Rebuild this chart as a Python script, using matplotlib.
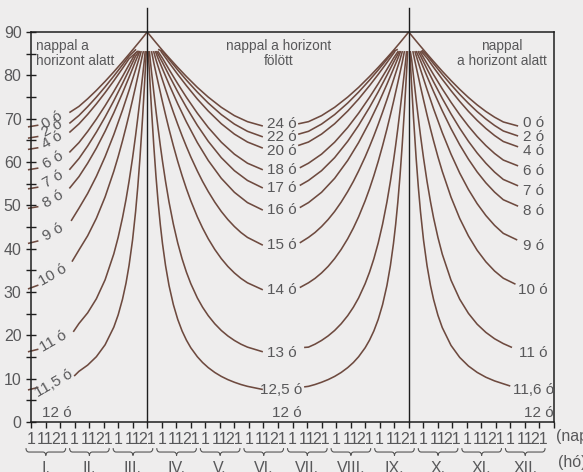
import matplotlib
matplotlib.use("Agg")
import matplotlib.pyplot as plt
import numpy as np
import matplotlib.transforms as mtransforms
from matplotlib.path import Path
from matplotlib.patches import PathPatch

plt.rcParams['font.family'] = ['Liberation Sans Narrow', 'Liberation Sans', 'DejaVu Sans']

# ---------------- data ----------------
# x axis unit = month index (0 = 1 Jan, 12 = end of Dec); equinoxes
EQ1 = 2 + 2 / 3   # 21 March
EQ2 = 8 + 2 / 3   # 21 September
month_names = ["I.", "II.", "III.", "IV.", "V.", "VI.", "VII.", "VIII.", "IX.", "X.", "XI.", "XII."]
day_ticks = ["1", "11", "21"]

# left part (Jan -> 21 Mar): month position, latitude
left_labels = ["0 ó", "2 ó", "4 ó", "6 ó", "7 ó", "8 ó", "9 ó", "10 ó", "11 ó", "11,5 ó"]
left_m = [
    [0.88, 1.1, 1.3, 1.5, 1.7, 1.9, 2.1, 2.25, 2.4, 2.5, EQ1],
    [0.88, 1.1, 1.3, 1.5, 1.7, 1.9, 2.1, 2.25, 2.41],
    [0.88, 1.1, 1.3, 1.5, 1.7, 1.9, 2.1, 2.25, 2.45],
    [0.88, 1.1, 1.3, 1.5, 1.7, 1.9, 2.1, 2.25, 2.4, 2.47],
    [0.88, 1.1, 1.3, 1.5, 1.7, 1.9, 2.1, 2.25, 2.4, 2.49],
    [0.88, 1.1, 1.3, 1.5, 1.7, 1.9, 2.1, 2.25, 2.4, 2.5],
    [0.92, 1.1, 1.3, 1.5, 1.7, 1.9, 2.1, 2.25, 2.4, 2.5, 2.53],
    [0.94, 1.1, 1.3, 1.5, 1.7, 1.9, 2.0, 2.1, 2.18, 2.25, 2.33, 2.4, 2.45, 2.5, 2.56, 2.58],
    [0.97, 1.1, 1.3, 1.5, 1.7, 1.9, 2.0, 2.1, 2.18, 2.25, 2.33, 2.4, 2.45, 2.5, 2.56, 2.6, 2.62],
    [0.99, 1.1, 1.3, 1.5, 1.7, 1.9, 2.0, 2.1, 2.18, 2.25, 2.33, 2.4, 2.45, 2.5, 2.56, 2.6, 2.63, 2.645],
]
left_lat = [
    [71.4, 72.83, 74.59, 76.52, 78.6, 80.8, 83.11, 84.89, 86.7, 87.92, 90.0],
    [68.9, 70.73, 72.77, 74.97, 77.34, 79.83, 82.43, 84.44, 86.0],
    [66.8, 68.79, 70.99, 73.41, 76.0, 78.74, 81.61, 83.83, 85.6],
    [62.2, 64.47, 67.05, 69.9, 72.98, 76.28, 79.75, 82.46, 85.16, 85.6],
    [58.2, 60.8, 63.69, 66.89, 70.38, 74.13, 78.13, 81.24, 84.44, 85.6],
    [53.9, 56.62, 59.72, 63.19, 67.09, 71.35, 75.95, 79.56, 83.3, 85.6],
    [46.4, 49.33, 52.74, 56.69, 61.22, 66.32, 71.98, 76.54, 81.3, 84.57, 85.6],
    [37.0, 39.69, 42.98, 47.01, 51.93, 57.86, 61.23, 64.9, 68.04, 70.9, 74.33, 77.41, 79.7, 82.0, 84.8, 85.6],
    [20.8, 22.72, 25.19, 28.44, 32.81, 38.8, 42.62, 47.16, 51.35, 55.56, 60.9, 66.13, 70.18, 74.41, 79.76, 83.45, 85.6],
    [10.6, 11.69, 13.13, 15.07, 17.82, 21.89, 24.72, 28.36, 32.05, 36.14, 41.99, 48.56, 54.27, 60.9, 70.2, 77.1, 82.55, 85.6],
]
# short pieces of the same curves at the very start of January
tail_m = [-0.07, 0.17]
tail_lat = [[68.1, 68.5], [65.5, 65.9], [62.9, 63.3], [58.2, 58.6], [53.8, 54.2],
            [49.3, 49.7], [41.2, 41.8], [30.7, 31.6], [16.2, 16.8], [7.4, 8.0]]
left_label_pos = [(0.49, 69.7), (0.48, 67.7), (0.48, 65.1), (0.51, 60.5), (0.51, 56.1),
                  (0.51, 51.5), (0.51, 43.8), (0.51, 33.9), (0.51, 18.7), (0.53, 8.8)]

# middle part (21 Mar -> 21 Sep): distance from the equinox (months), latitude
mid_labels = ["24 ó", "22 ó", "20 ó", "18 ó", "17 ó", "16 ó", "15 ó", "14 ó", "13 ó", "12,5 ó"]
mid_j = [
    [0, 0.2, 0.35, 0.5, 0.7, 0.9, 1.15, 1.4, 1.7, 2.0, 2.3],
    [0.25, 0.35, 0.5, 0.7, 0.9, 1.15, 1.4, 1.7, 2.0, 2.3],
    [0.31, 0.5, 0.7, 0.9, 1.15, 1.4, 1.7, 2.0, 2.3],
    [0.24, 0.35, 0.5, 0.7, 0.9, 1.15, 1.4, 1.7, 2.0, 2.3],
    [0.21, 0.35, 0.5, 0.7, 0.9, 1.15, 1.4, 1.7, 2.0, 2.3],
    [0.185, 0.25, 0.35, 0.5, 0.7, 0.9, 1.15, 1.4, 1.7, 2.0, 2.3],
    [0.145, 0.2, 0.25, 0.35, 0.42, 0.5, 0.6, 0.7, 0.8, 0.9, 1.0, 1.15, 1.27, 1.4, 1.55, 1.7, 1.85, 2.0, 2.15, 2.3],
    [0.098, 0.15, 0.2, 0.25, 0.35, 0.42, 0.5, 0.6, 0.7, 0.8, 0.9, 1.0, 1.15, 1.27, 1.4, 1.55, 1.7, 1.85, 2.0, 2.15, 2.3],
    [0.049, 0.07, 0.1, 0.15, 0.2, 0.25, 0.3, 0.35, 0.42, 0.5, 0.6, 0.7, 0.8, 0.9, 1.0, 1.15, 1.27, 1.4, 1.55,
     1.7, 1.85, 2.0, 2.15, 2.3],
    [0.025, 0.03, 0.05, 0.07, 0.1, 0.15, 0.2, 0.25, 0.3, 0.35, 0.42, 0.5, 0.6, 0.7, 0.8, 0.9, 1.0, 1.15, 1.27,
     1.4, 1.55, 1.7, 1.85, 2.0, 2.15, 2.3],
]
mid_lat = [
    [90.0, 87.55, 85.76, 84.05, 81.84, 79.72, 77.22, 74.98, 72.62, 70.7, 69.31],
    [86.0, 85.55, 83.69, 81.24, 78.89, 76.13, 73.61, 70.94, 68.75, 67.08],
    [85.6, 82.95, 80.22, 77.61, 74.53, 71.76, 68.83, 66.44, 64.61],
    [85.6, 83.95, 81.38, 78.06, 74.92, 71.26, 67.97, 64.57, 61.81, 59.72],
    [85.6, 82.98, 80.02, 76.19, 72.6, 68.46, 64.78, 61.0, 58.0, 55.74],
    [85.6, 83.9, 81.49, 77.94, 73.42, 69.23, 64.48, 60.36, 56.23, 53.01, 50.63],
    [85.6, 83.62, 82.05, 78.94, 76.8, 74.38, 71.48, 68.69, 66.04, 63.54, 61.17, 57.92, 55.52, 53.18, 50.74,
     48.58, 46.72, 45.11, 43.73, 42.6],
    [85.6, 82.93, 80.61, 78.33, 73.88, 70.9, 67.6, 63.74, 60.14, 56.84, 53.8, 51.04, 47.35, 44.77, 42.29,
     39.82, 37.7, 35.9, 34.4, 33.14, 32.12],
    [85.6, 83.45, 80.68, 76.18, 71.85, 67.72, 63.83, 60.2, 55.54, 50.77, 45.65, 41.32, 37.66, 34.56, 31.92,
     28.63, 26.49, 24.54, 22.67, 21.12, 19.86, 18.82, 17.96, 17.28],
    [85.6, 84.38, 80.7, 77.09, 71.86, 63.85, 56.8, 50.73, 45.57, 41.19, 36.12, 31.5, 27.08, 23.68, 21.01,
     18.88, 17.13, 15.06, 13.73, 12.55, 11.43, 10.52, 9.78, 9.17, 8.65, 8.23],
]
mid_left_end_j = 2.653
mid_left_end_lat = [68.3, 65.8, 63.2, 58.2, 54.0, 48.9, 40.8, 30.5, 16.2, 7.5]
mid_right_end_j = [2.537, 2.537, 2.537, 2.5, 2.5, 2.5, 2.5, 2.5, 2.4, 2.4]
mid_right_end_lat = [68.8, 66.4, 63.8, 58.66, 54.58, 49.47, 41.33, 31.02, 17.2, 8.1]
mid_label_pos = [(5.75, 68.8), (5.75, 65.8), (5.75, 62.6), (5.75, 58.2), (5.75, 54.0),
                 (5.75, 48.9), (5.75, 40.8), (5.75, 30.5), (5.75, 16.0), (5.75, 7.4)]

# right part (21 Sep -> Dec): months after the equinox, latitude
right_labels = ["0 ó", "2 ó", "4 ó", "6 ó", "7 ó", "8 ó", "9 ó", "10 ó", "11 ó", "11,6 ó"]
right_k = [
    [0, 0.17, 0.27, 0.42, 0.57, 0.77, 0.97, 1.17, 1.37, 1.57, 1.77, 1.97, 2.17, 2.51],
    [0.30, 0.42, 0.57, 0.77, 0.97, 1.17, 1.37, 1.57, 1.77, 1.97, 2.17, 2.51],
    [0.28, 0.42, 0.57, 0.77, 0.97, 1.17, 1.37, 1.57, 1.77, 1.97, 2.17, 2.51],
    [0.25, 0.42, 0.57, 0.77, 0.97, 1.17, 1.37, 1.57, 1.77, 1.97, 2.17, 2.51],
    [0.21, 0.27, 0.42, 0.57, 0.77, 0.97, 1.17, 1.37, 1.57, 1.77, 1.97, 2.17, 2.51],
    [0.17, 0.27, 0.42, 0.57, 0.77, 0.97, 1.17, 1.37, 1.57, 1.77, 1.97, 2.17, 2.51],
    [0.14, 0.17, 0.27, 0.42, 0.57, 0.77, 0.97, 1.17, 1.37, 1.57, 1.77, 1.97, 2.17, 2.49],
    [0.095, 0.11, 0.17, 0.22, 0.27, 0.34, 0.42, 0.5, 0.57, 0.67, 0.77, 0.97, 1.17, 1.37, 1.57, 1.77, 1.97,
     2.17, 2.45],
    [0.035, 0.07, 0.11, 0.17, 0.22, 0.27, 0.34, 0.42, 0.5, 0.57, 0.67, 0.77, 0.97, 1.17, 1.37, 1.57, 1.77,
     1.97, 2.17, 2.37],
    [0.025, 0.04, 0.07, 0.11, 0.17, 0.22, 0.27, 0.34, 0.42, 0.5, 0.57, 0.67, 0.77, 0.97, 1.17, 1.37, 1.57,
     1.77, 1.97, 2.17, 2.33],
]
right_lat = [
    [90.0, 87.92, 86.72, 84.95, 83.21, 80.95, 78.8, 76.77, 74.89, 73.18, 71.66, 70.34, 69.24, 68.3],
    [85.8, 84.6, 82.69, 80.22, 77.85, 75.61, 73.54, 71.63, 69.93, 68.43, 67.16, 66.0],
    [85.6, 83.97, 81.84, 79.09, 76.47, 73.99, 71.69, 69.6, 67.74, 66.11, 64.73, 63.5],
    [85.6, 82.7, 80.16, 76.88, 73.79, 70.91, 68.27, 65.89, 63.79, 61.97, 60.45, 59.1],
    [85.6, 84.51, 81.46, 78.49, 74.67, 71.1, 67.79, 64.78, 62.08, 59.72, 57.67, 55.97, 54.5],
    [85.6, 83.38, 79.76, 76.26, 71.82, 67.72, 63.97, 60.65, 57.71, 55.19, 53.05, 51.29, 49.8],
    [85.6, 84.57, 81.38, 76.72, 72.28, 66.77, 61.82, 57.44, 53.65, 50.39, 47.65, 45.37, 43.53, 42.0],
    [85.6, 84.8, 81.99, 79.7, 77.41, 74.33, 70.87, 67.6, 64.88, 61.2, 57.83, 51.9, 46.97, 42.93, 39.63,
     36.97, 34.84, 33.18, 31.8],
    [85.6, 83.45, 79.77, 74.41, 70.18, 66.12, 60.9, 55.52, 50.8, 47.12, 42.6, 38.73, 32.73, 28.33, 25.07,
     22.57, 20.68, 19.21, 18.09, 17.2],
    [85.6, 82.53, 77.09, 70.2, 60.91, 54.27, 48.54, 41.96, 36.08, 31.48, 28.29, 24.63, 21.78, 17.68, 14.9,
     12.92, 11.45, 10.33, 9.48, 8.82, 8.3],
]
right_label_pos = [(11.52, 69.0), (11.52, 65.8), (11.52, 62.5), (11.52, 58.0), (11.52, 53.4),
                   (11.52, 48.8), (11.52, 40.7), (11.52, 30.5), (11.52, 16.0), (11.52, 7.4)]

twelve_pos = [(0.6, 2.15), (5.87, 2.0), (11.66, 2.0)]

for a, b in list(zip(left_m, left_lat)) + list(zip(mid_j, mid_lat)) + list(zip(right_k, right_lat)):
    assert len(a) == len(b), (a, b)

# ---------------- style ----------------
BG = '#EEEDED'
BROWN = '#6E4A3F'
TXT = '#58585A'
AXC = '#1E1E1E'
LW = 1.15
FS = 11

fig = plt.figure(figsize=(5.83, 4.72), dpi=100, facecolor=BG)
ax = fig.add_axes([31 / 583, 1 - 422 / 472, 523 / 583, 390 / 472])
ax.set_facecolor(BG)
ax.set_xlim(0, 12)
ax.set_ylim(0, 90)

kw = dict(color=BROWN, lw=LW, clip_on=False, solid_capstyle='butt', solid_joinstyle='round')
for ms, ls in zip(left_m, left_lat):
    ax.plot(ms, ls, **kw)
for ls in tail_lat:
    ax.plot(tail_m, ls, **kw)
for js, ls, le, rj, re in zip(mid_j, mid_lat, mid_left_end_lat, mid_right_end_j, mid_right_end_lat):
    js = np.array(js)
    ax.plot(list(EQ1 + js) + [EQ1 + mid_left_end_j], list(ls) + [le], **kw)
    ax.plot(list(EQ2 - js) + [EQ2 - rj], list(ls) + [re], **kw)
for ks, ls in zip(right_k, right_lat):
    ax.plot(EQ2 + np.array(ks), ls, **kw)

# equinox verticals
for eq in (EQ1, EQ2):
    ax.plot([eq, eq], [0, 95.5], color=AXC, lw=1.0, clip_on=False, zorder=3)

# curve labels
for lab, (x, y) in zip(left_labels, left_label_pos):
    ax.text(x, y, lab, rotation=30, ha='center', va='center', rotation_mode='anchor',
            fontsize=FS, color=TXT)
for lab, (x, y) in zip(mid_labels, mid_label_pos):
    ax.text(x, y, lab, ha='center', va='center', fontsize=FS, color=TXT)
for lab, (x, y) in zip(right_labels, right_label_pos):
    ax.text(x, y, lab, ha='center', va='center', fontsize=FS, color=TXT)
for (x, y) in twelve_pos:
    ax.text(x, y, "12 ó", ha='center', va='center', fontsize=FS, color=TXT)

# region captions
CFS = 9.8
ax.text(0.11, 88.4, "nappal a\nhorizont alatt", ha='left', va='top', fontsize=CFS,
        color=TXT, linespacing=1.12)
ax.text(5.67, 88.4, "nappal a horizont\nfölött", ha='center', va='top', fontsize=CFS,
        color=TXT, linespacing=1.12)
ax.text(10.8, 88.4, "nappal\na horizont alatt", ha='center', va='top', fontsize=CFS,
        color=TXT, linespacing=1.12)

# spines
for s in ax.spines.values():
    s.set_color(AXC)
    s.set_linewidth(1.1)

# y ticks
ax.set_yticks(np.arange(0, 91, 10))
ax.set_yticks(np.arange(5, 90, 10), minor=True)
ax.tick_params(axis='y', which='both', direction='inout', length=6.5, width=1.0,
               color=AXC, labelsize=11.5, labelcolor=TXT, pad=3.5)

# x ticks
xt = [m + d / 3 for m in range(12) for d in range(3)]
ax.set_xticks(xt)
ax.set_xticklabels(day_ticks * 12)
ax.set_xticks([12], minor=True)
ax.tick_params(axis='x', which='both', direction='out', length=4, width=1.0,
               color=AXC, labelsize=11.5, labelcolor=TXT, pad=3)

# month braces + names
trans = mtransforms.blended_transform_factory(ax.transData, ax.transAxes)
for i, name in enumerate(month_names):
    c = i + 0.34
    w = 0.455
    yt, ym, yb = -0.067, -0.077, -0.086
    verts = [(c - w, yt), (c - w, ym), (c - w + 0.07, ym),
             (c - 0.07, ym), (c, ym), (c, yb),
             (c, ym), (c + 0.07, ym),
             (c + w - 0.07, ym), (c + w, ym), (c + w, yt)]
    codes = [Path.MOVETO, Path.CURVE3, Path.CURVE3,
             Path.LINETO, Path.CURVE3, Path.CURVE3,
             Path.CURVE3, Path.CURVE3,
             Path.LINETO, Path.CURVE3, Path.CURVE3]
    ax.add_patch(PathPatch(Path(verts, codes), transform=trans, fill=False,
                           edgecolor='#555555', lw=0.8, clip_on=False))
    ax.text(c, -0.12, name, transform=trans, ha='center', va='center',
            fontsize=11.5, color=TXT, clip_on=False)

ax.text(12.05, -0.038, "(nap)", transform=trans, ha='left', va='center',
        fontsize=11.5, color=TXT, clip_on=False)
ax.text(12.09, -0.103, "(hó)", transform=trans, ha='left', va='center',
        fontsize=11.5, color=TXT, clip_on=False)

fig.savefig("out.png", dpi=100, facecolor=BG)
